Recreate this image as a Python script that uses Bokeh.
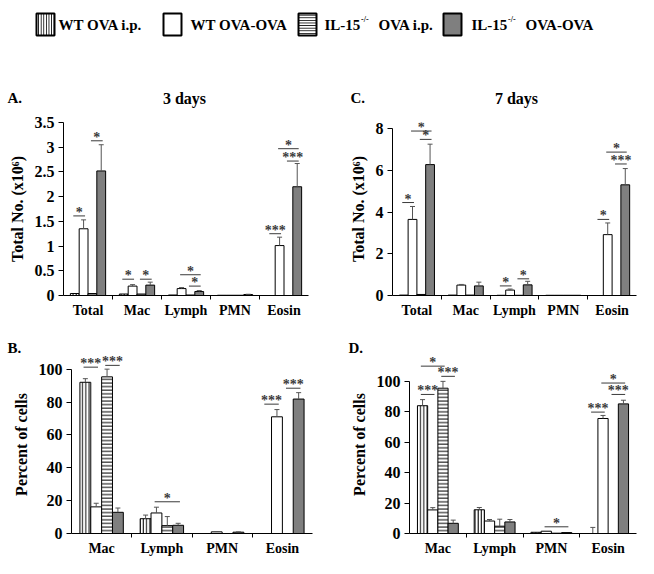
import numpy as np
from bokeh.plotting import figure
from bokeh.layouts import column, row
from bokeh.models import Range1d, FixedTicker, CustomJSTickFormatter
from bokeh.embed import file_html
from bokeh.resources import INLINE
from bokeh.core.properties import value

# ---------------- data ----------------
groups = ["WT OVA i.p.", "WT OVA-OVA", "IL-15-/- OVA i.p.", "IL-15-/- OVA-OVA"]
cats_count = ["Total", "Mac", "Lymph", "PMN", "Eosin"]
cats_pct = ["Mac", "Lymph", "PMN", "Eosin"]
panel_letters = ["A.", "C.", "B.", "D."]
panel_titles = ["3 days", "7 days"]
count_label = "Total No. (x10\u2076)"
pct_label = "Percent of cells"

# A. 3 days, total number (x10^6)
a_wt_ip = [0.04, 0.03, 0.01, 0.005, 0.0]
a_wt_ova = [1.35, 0.19, 0.14, 0.005, 1.01]
a_il_ip = [0.04, 0.03, 0.01, 0.005, 0.0]
a_il_ova = [2.52, 0.21, 0.08, 0.02, 2.20]
a_wt_ip_sem = [0, 0, 0, 0, 0]
a_wt_ova_sem = [0.18, 0.03, 0.02, 0, 0.17]
a_il_ip_sem = [0, 0, 0, 0, 0]
a_il_ova_sem = [0.53, 0.06, 0.02, 0.005, 0.47]
a_sig = [(0, 0, 1, 1.61, "*"), (0, 2, 3, 3.13, "*"), (1, 0, 1, 0.33, "*"),
         (1, 2, 3, 0.33, "*"), (2, 1, 3, 0.42, "*"), (2, 2, 3, 0.19, "*"),
         (4, 0, 1, 1.25, "***"), (4, 1, 3, 2.97, "*"), (4, 2, 3, 2.72, "***")]

# C. 7 days, total number (x10^6)
c_wt_ip = [0.02, 0.02, 0.01, 0.01, 0.0]
c_wt_ova = [3.65, 0.50, 0.26, 0.01, 2.92]
c_il_ip = [0.05, 0.02, 0.01, 0.01, 0.0]
c_il_ova = [6.28, 0.46, 0.51, 0.01, 5.31]
c_wt_ip_sem = [0, 0, 0, 0, 0]
c_wt_ova_sem = [0.62, 0.03, 0.05, 0, 0.56]
c_il_ip_sem = [0, 0, 0, 0, 0]
c_il_ova_sem = [0.98, 0.18, 0.17, 0, 0.78]
c_sig = [(0, 0, 1, 4.46, "*"), (0, 1, 3, 7.89, "*"), (0, 2, 3, 7.49, "*"),
         (2, 0, 1, 0.46, "*"), (2, 2, 3, 0.80, "*"), (4, 0, 1, 3.65, "*"),
         (4, 1, 3, 6.88, "*"), (4, 2, 3, 6.31, "***")]

# B. 3 days, percent of cells
b_wt_ip = [92.0, 9.0, 0.0, 0.0]
b_wt_ova = [16.2, 12.5, 1.0, 71.0]
b_il_ip = [95.3, 4.8, 0.0, 0.0]
b_il_ova = [12.9, 5.0, 0.8, 81.8]
b_wt_ip_sem = [2.2, 2.2, 0, 0]
b_wt_ova_sem = [2.2, 3.5, 0.2, 4.4]
b_il_ip_sem = [4.7, 5.5, 0, 0]
b_il_ova_sem = [2.6, 1.2, 0.2, 3.9]
b_sig = [(0, 0, 1, 101.2, "***"), (0, 2, 3, 102.3, "***"), (1, 1, 3, 19.3, "*"),
         (3, 0, 1, 78.7, "***"), (3, 2, 3, 88.4, "***")]

# D. 7 days, percent of cells
d_wt_ip = [84.0, 15.6, 0.8, 0.0]
d_wt_ova = [15.5, 8.2, 1.5, 75.6]
d_il_ip = [95.5, 4.8, 0.2, 0.0]
d_il_ova = [6.7, 7.6, 0.6, 85.2]
d_wt_ip_sem = [4.0, 1.5, 0, 4.0]
d_wt_ova_sem = [1.5, 1.0, 0, 2.0]
d_il_ip_sem = [4.5, 4.6, 0, 0]
d_il_ova_sem = [2.1, 1.6, 0, 2.4]
d_sig = [(0, 0, 1, 91.4, "***"), (0, 0, 2, 110.0, "*"), (0, 2, 3, 103.3, "***"),
         (2, 1, 3, 4.4, "*"), (3, 0, 1, 79.8, "***"), (3, 1, 3, 98.9, "*"),
         (3, 2, 3, 91.4, "***")]

# ---------------- styling ----------------
FONT = "Liberation Serif"
GRAY = "#7f7f7f"
ANN = "#3a3a3a"
BAR_W = 0.18
STYLES = [dict(fill_color="white", hatch_pattern="vertical_line", hatch_scale=3.2),
          dict(fill_color="white", hatch_pattern=None, hatch_scale=4),
          dict(fill_color="white", hatch_pattern="horizontal_line", hatch_scale=3.6),
          dict(fill_color=GRAY, hatch_pattern=None, hatch_scale=4)]

FULL_W = 638
LEFT_W, RIGHT_W = 322, 316
TOP_H, ROW1_H, MID_H, ROW2_H = 112, 208, 35, 203


def make_panel(cats, series, sems, sig, yr, ybounds, yticks, width, borders, height, ylabel):
    left, right, top, bottom = borders
    n = len(cats)
    p = figure(width=width, height=height, output_backend="svg", toolbar_location=None,
               x_range=Range1d(-0.5, n - 0.5), y_range=Range1d(*yr),
               min_border_left=left, min_border_right=right,
               min_border_top=top, min_border_bottom=bottom)
    p.outline_line_color = None
    p.grid.grid_line_color = None
    p.background_fill_color = "white"
    p.border_fill_color = "white"

    idx = np.arange(n)
    for k in range(4):
        xs = idx + (k - 1.5) * BAR_W
        vals = np.array(series[k], dtype=float)
        st = STYLES[k]
        kw = dict(fill_color=st["fill_color"], line_color="black", line_width=1)
        if st["hatch_pattern"]:
            kw.update(hatch_pattern=st["hatch_pattern"], hatch_color="black",
                      hatch_scale=st["hatch_scale"], hatch_weight=1)
        p.vbar(x=xs, top=vals, width=BAR_W, bottom=0, **kw)
        err = np.array(sems[k], dtype=float)
        m = err > 0
        if m.any():
            p.segment(x0=xs[m], y0=vals[m], x1=xs[m], y1=(vals + err)[m],
                      line_color="#555555", line_width=1)
            p.scatter(x=xs[m], y=(vals + err)[m], marker="dash", size=5,
                      line_color="#555555", line_width=1)

    # significance brackets
    for ci, b0, b1, h, lab in sig:
        x0 = ci + (b0 - 1.5) * BAR_W - 0.03
        x1 = ci + (b1 - 1.5) * BAR_W + 0.03
        p.segment(x0=[x0], y0=[h], x1=[x1], y1=[h], line_color=ANN, line_width=1)
        p.text(x=[(x0 + x1) / 2], y=[h], text=[lab], text_align="center",
               text_baseline="bottom", y_offset=4,
               text_font=value(FONT), text_font_style="bold",
               text_font_size="14px", text_color=ANN)

    xa = p.xaxis[0]
    xa.ticker = FixedTicker(ticks=list(range(n)), minor_ticks=[i + 0.5 for i in range(n - 1)])
    xa.formatter = CustomJSTickFormatter(args=dict(names=cats),
                                         code="return names[Math.round(tick)] || '';")
    xa.major_tick_out = 0
    xa.major_tick_in = 0
    xa.minor_tick_out = 4
    xa.minor_tick_in = 0
    xa.major_label_standoff = 3
    xa.major_label_text_font = FONT
    xa.major_label_text_font_style = "bold"
    xa.major_label_text_font_size = "14px"
    xa.major_label_text_color = "black"
    xa.axis_line_color = "black"

    ya = p.yaxis[0]
    ya.ticker = FixedTicker(ticks=yticks)
    ya.formatter = CustomJSTickFormatter(code="return (Math.round(tick*10)/10).toString();")
    ya.bounds = ybounds
    ya.minor_tick_line_color = None
    ya.major_tick_out = 5
    ya.major_tick_in = 0
    ya.major_label_standoff = 4
    ya.major_label_text_font = FONT
    ya.major_label_text_font_style = "bold"
    ya.major_label_text_font_size = "16px"
    ya.major_label_text_color = "black"
    ya.axis_label = ylabel
    ya.axis_label_text_font = FONT
    ya.axis_label_text_font_style = "bold"
    ya.axis_label_text_font_size = "16px"
    ya.axis_label_text_color = "black"
    ya.axis_label_standoff = 6
    ya.axis_line_color = "black"
    return p


def text_strip(height):
    s = figure(width=FULL_W, height=height, output_backend="svg", toolbar_location=None,
               x_range=Range1d(0, FULL_W), y_range=Range1d(height, 0), min_border=0)
    s.axis.visible = False
    s.grid.grid_line_color = None
    s.outline_line_color = None
    s.background_fill_color = "white"
    s.border_fill_color = "white"
    return s


pA = make_panel(cats_count, [a_wt_ip, a_wt_ova, a_il_ip, a_il_ova],
                [a_wt_ip_sem, a_wt_ova_sem, a_il_ip_sem, a_il_ova_sem], a_sig,
                (0, 3.5), "auto", [0, 0.5, 1, 1.5, 2, 2.5, 3, 3.5],
                LEFT_W, (63, 14, 10, 23), ROW1_H, count_label)
pC = make_panel(cats_count, [c_wt_ip, c_wt_ova, c_il_ip, c_il_ova],
                [c_wt_ip_sem, c_wt_ova_sem, c_il_ip_sem, c_il_ova_sem], c_sig,
                (0, 8.3), (0, 8), [0, 2, 4, 6, 8],
                RIGHT_W, (70, 2, 3, 25), ROW1_H, count_label)
pB = make_panel(cats_pct, [b_wt_ip, b_wt_ova, b_il_ip, b_il_ova],
                [b_wt_ip_sem, b_wt_ova_sem, b_il_ip_sem, b_il_ova_sem], b_sig,
                (0, 108.3), (0, 100), [0, 20, 40, 60, 80, 100],
                LEFT_W, (71, 10, 0, 20), ROW2_H, pct_label)
pD = make_panel(cats_pct, [d_wt_ip, d_wt_ova, d_il_ip, d_il_ova],
                [d_wt_ip_sem, d_wt_ova_sem, d_il_ip_sem, d_il_ova_sem], d_sig,
                (0, 117), (0, 100), [0, 20, 40, 60, 80, 100],
                RIGHT_W, (87, 2, 0, 20), ROW2_H, pct_label)

txt_kw = dict(text_font=value(FONT), text_font_style="bold", text_color="black",
              text_baseline="middle")

# ---------------- header: legend + panel headings ----------------
pT = text_strip(TOP_H)
sw_x = [45, 172, 307, 452]
tx_x = [58, 190, 324, 471]
cy = 24
for k in range(4):
    st = STYLES[k]
    kw = dict(fill_color=st["fill_color"], line_color="black", line_width=2)
    if st["hatch_pattern"]:
        kw.update(hatch_pattern=st["hatch_pattern"], hatch_color="black",
                  hatch_scale=2.6, hatch_weight=1)
    pT.rect(x=[sw_x[k]], y=[cy], width=18, height=22, **kw)
for k in range(2):
    pT.text(x=[tx_x[k]], y=[cy], text=[groups[k]], text_font_size="15px",
            text_align="left", **txt_kw)
for k in range(2, 4):
    base, rest = groups[k].split(" ", 1)
    stem, sup = base[:5], base[5:]
    pT.text(x=[tx_x[k]], y=[cy], text=[stem], text_font_size="15px", text_align="left", **txt_kw)
    pT.text(x=[tx_x[k] + 36.5], y=[cy - 5], text=[sup], text_font_size="8px",
            text_align="left", **txt_kw)
    pT.text(x=[tx_x[k] + 54], y=[cy], text=[rest], text_font_size="15px",
            text_align="left", **txt_kw)
pT.text(x=[7, 350], y=[97, 97], text=panel_letters[:2], text_font_size="15px",
        text_align="left", **txt_kw)
pT.text(x=[184, 516], y=[97.5, 97.5], text=panel_titles, text_font_size="16px",
        text_align="center", **txt_kw)

# ---------------- middle strip: lower panel letters ----------------
pM = text_strip(MID_H)
pM.text(x=[7, 348], y=[27, 27], text=panel_letters[2:], text_font_size="15px",
        text_align="left", **txt_kw)

layout = column(pT, row(pA, pC), pM, row(pB, pD))
open("out.html", "w").write(file_html(layout, INLINE))
